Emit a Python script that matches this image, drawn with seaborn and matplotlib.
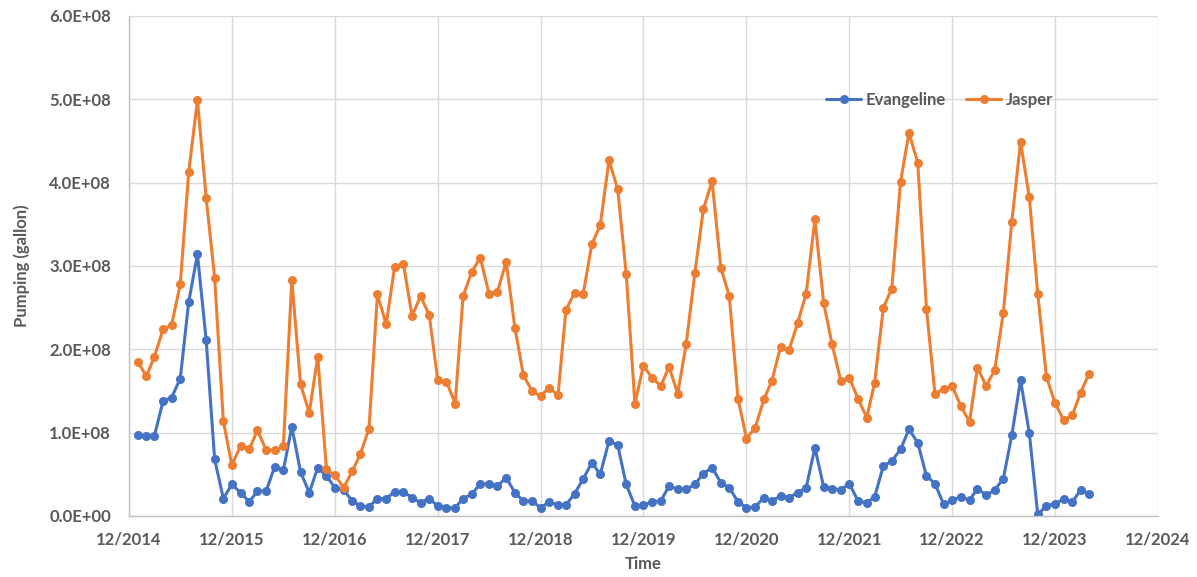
import pandas as pd
import seaborn as sns
import matplotlib.pyplot as plt
import matplotlib.dates as mdates
from matplotlib.ticker import FuncFormatter, MultipleLocator

# monthly pumping, in units of 1e8 gallon, Jan 2015 .. Apr 2024
evangeline = [
	0.97, 0.96, 0.96, 1.38, 1.42, 1.65, 2.57, 3.14, 2.11, 0.68, 0.21, 0.38,
	0.28, 0.17, 0.30, 0.30, 0.59, 0.55, 1.07, 0.53, 0.28, 0.58, 0.48, 0.34,
	0.31, 0.18, 0.12, 0.11, 0.21, 0.21, 0.29, 0.29, 0.22, 0.16, 0.21, 0.12,
	0.10, 0.10, 0.21, 0.26, 0.39, 0.38, 0.36, 0.46, 0.28, 0.18, 0.18, 0.10,
	0.17, 0.13, 0.13, 0.27, 0.44, 0.64, 0.50, 0.90, 0.85, 0.38, 0.12, 0.13,
	0.17, 0.18, 0.36, 0.32, 0.32, 0.38, 0.51, 0.58, 0.40, 0.34, 0.17, 0.10,
	0.11, 0.22, 0.18, 0.24, 0.22, 0.28, 0.34, 0.82, 0.35, 0.33, 0.31, 0.39,
	0.18, 0.16, 0.23, 0.60, 0.66, 0.80, 1.04, 0.88, 0.48, 0.39, 0.14, 0.19,
	0.23, 0.19, 0.33, 0.25, 0.31, 0.45, 0.97, 1.63, 1.00, 0.02, 0.12, 0.15,
	0.20, 0.17, 0.31, 0.27,
]
jasper = [
	1.85, 1.68, 1.91, 2.24, 2.29, 2.78, 4.13, 4.99, 3.82, 2.86, 1.14, 0.61,
	0.84, 0.80, 1.03, 0.79, 0.79, 0.84, 2.83, 1.58, 1.24, 1.91, 0.56, 0.49,
	0.34, 0.54, 0.74, 1.05, 2.66, 2.30, 2.99, 3.03, 2.40, 2.64, 2.41, 1.63,
	1.61, 1.35, 2.64, 2.93, 3.10, 2.67, 2.69, 3.05, 2.26, 1.69, 1.50, 1.44,
	1.54, 1.45, 2.47, 2.68, 2.66, 3.26, 3.49, 4.27, 3.92, 2.91, 1.35, 1.80,
	1.66, 1.56, 1.79, 1.47, 2.06, 2.92, 3.68, 4.02, 2.98, 2.64, 1.41, 0.93,
	1.06, 1.40, 1.62, 2.03, 1.99, 2.32, 2.67, 3.56, 2.56, 2.06, 1.62, 1.66,
	1.41, 1.18, 1.60, 2.50, 2.73, 4.01, 4.60, 4.24, 2.49, 1.47, 1.52, 1.56,
	1.32, 1.13, 1.78, 1.56, 1.75, 2.44, 3.53, 4.49, 3.83, 2.67, 1.67, 1.36,
	1.15, 1.21, 1.48, 1.71,
]
months = pd.date_range('2015-01-01', periods=len(jasper), freq='MS')
series_names = ['Evangeline', 'Jasper']
colors = ['#4472C4', '#ED7D31']

df = pd.concat([
	pd.DataFrame({'Time': months, 'Pumping': [v * 1e8 for v in evangeline], 'Well': 'Evangeline'}),
	pd.DataFrame({'Time': months, 'Pumping': [v * 1e8 for v in jasper], 'Well': 'Jasper'}),
])

sns.set_theme(style='whitegrid')
plt.rcParams['font.family'] = ['Lato', 'DejaVu Sans']

f, ax = plt.subplots(figsize=(11.97, 5.77), dpi=100)
f.subplots_adjust(left=129/1197, right=1158/1197, top=1-16/577, bottom=1-516/577)

sns.lineplot(ax=ax, data=df, x='Time', y='Pumping', hue='Well',
	hue_order=series_names, palette=colors,
	marker='o', markersize=6.5, markeredgewidth=0, linewidth=2.2)

ax.set_xlim(pd.Timestamp('2014-12-01'), pd.Timestamp('2024-12-01'))
ax.set_ylim(0, 6e8)
ax.xaxis.set_major_locator(mdates.MonthLocator(bymonth=12))
ax.xaxis.set_major_formatter(mdates.DateFormatter('%m/%Y'))
ax.yaxis.set_major_locator(MultipleLocator(1e8))
ax.yaxis.set_major_formatter(FuncFormatter(lambda v, p: f'{v:.1E}'))

ax.grid(True, color='#D9D9D9', linewidth=1)
ax.set_facecolor('white')
for side in ['top', 'right']:
	ax.spines[side].set_visible(False)
for side in ['left', 'bottom']:
	ax.spines[side].set_color('#BFBFBF')
	ax.spines[side].set_linewidth(1)

ax.tick_params(axis='both', length=0, labelsize=12, labelcolor='#595959')
ax.tick_params(axis='x', pad=11)
ax.tick_params(axis='y', pad=13)
for lab in ax.get_xticklabels() + ax.get_yticklabels():
	lab.set_fontweight('bold')

ax.set_xlabel('Time', fontsize=12, fontweight='bold', color='#595959', labelpad=6)
ax.set_ylabel('Pumping (gallon)', fontsize=12, fontweight='bold', color='#595959', labelpad=14)

leg = ax.legend(loc='center', bbox_to_anchor=(0.788, 0.832), ncol=2, frameon=False,
	fontsize=12, handlelength=2.1, columnspacing=1.2, handletextpad=0.3)
for t in leg.get_texts():
	t.set_color('#595959')
	t.set_fontweight('bold')

f.savefig('out.png', dpi=100)
plt.close(f)
